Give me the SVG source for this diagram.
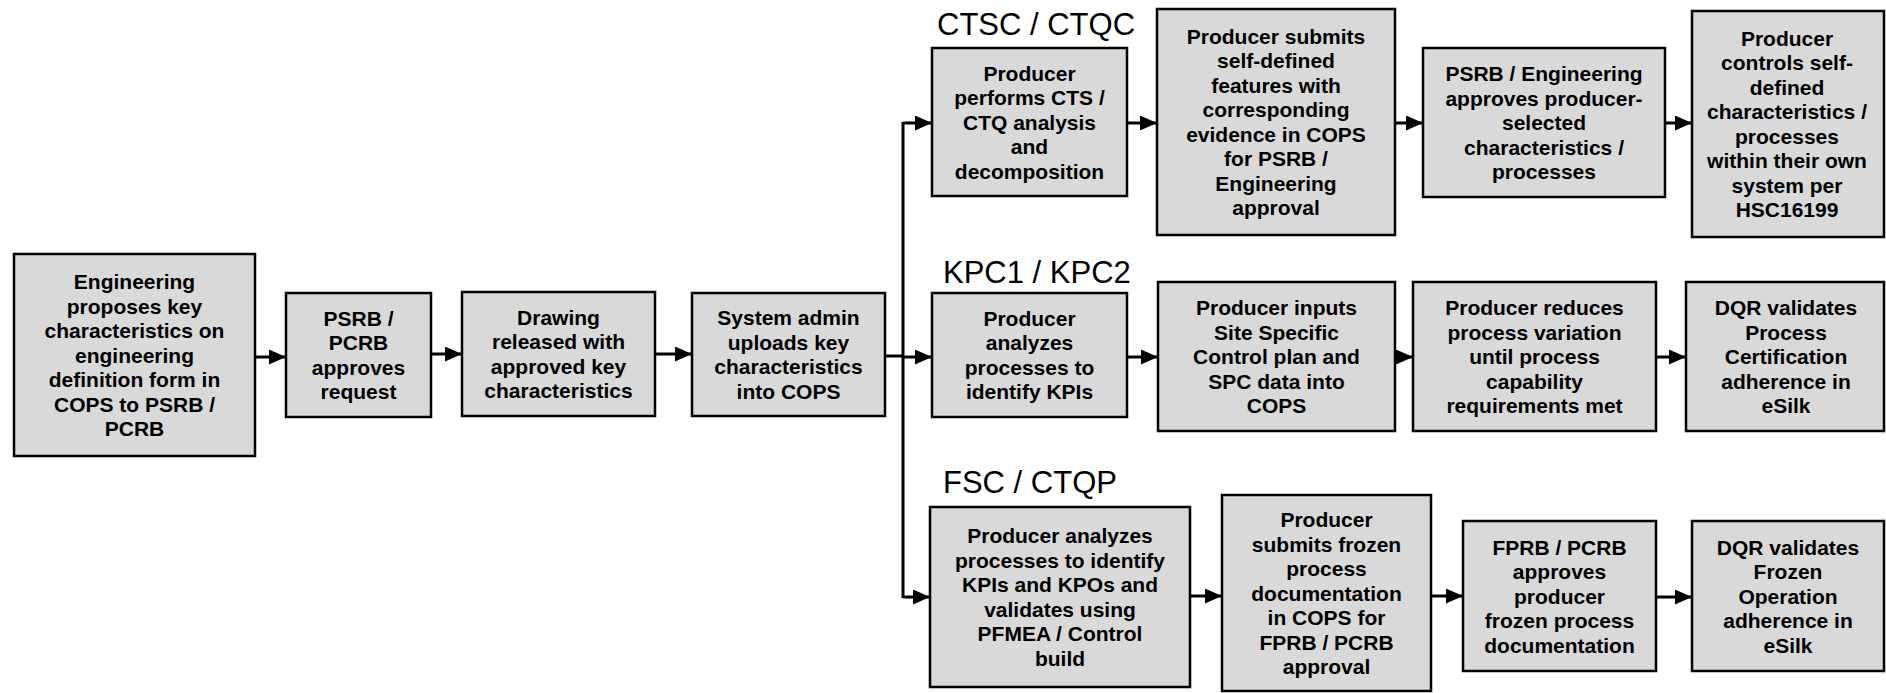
<svg xmlns="http://www.w3.org/2000/svg" width="1886" height="693" viewBox="0 0 1886 693">
<defs>
<style>
.box{fill:#d9d9d9;stroke:#000;stroke-width:2.5}
.t{font-family:"Liberation Sans",Arial,sans-serif;font-size:21px;font-weight:bold;text-anchor:middle;fill:#000}
.lbl{font-family:"Liberation Sans",Arial,sans-serif;font-size:31px;fill:#000}
.c{fill:none;stroke:#000;stroke-width:3}
</style>
<marker id="ah" markerUnits="userSpaceOnUse" markerWidth="17" markerHeight="15" refX="17" refY="7.5" orient="auto">
<path d="M0,0 L17,7.5 L0,15 z" fill="#000"/>
</marker>
</defs>
<rect width="1886" height="693" fill="#fff"/>
<g id="connectors">
<path class="c" d="M255,357 H286" marker-end="url(#ah)"/>
<path class="c" d="M431,354 H462" marker-end="url(#ah)"/>
<path class="c" d="M655,354 H692" marker-end="url(#ah)"/>
<path class="c" d="M885,356 H903"/>
<path class="c" d="M903,122 V598"/>
<path class="c" d="M903,123 H932" marker-end="url(#ah)"/>
<path class="c" d="M903,357 H932" marker-end="url(#ah)"/>
<path class="c" d="M903,597 H930" marker-end="url(#ah)"/>
<path class="c" d="M1127,123 H1157" marker-end="url(#ah)"/>
<path class="c" d="M1395,123 H1423" marker-end="url(#ah)"/>
<path class="c" d="M1665,123 H1692" marker-end="url(#ah)"/>
<path class="c" d="M1127,357 H1158" marker-end="url(#ah)"/>
<path class="c" d="M1395,357 H1413" marker-end="url(#ah)"/>
<path class="c" d="M1656,357 H1686" marker-end="url(#ah)"/>
<path class="c" d="M1190,596 H1222" marker-end="url(#ah)"/>
<path class="c" d="M1431,596 H1463" marker-end="url(#ah)"/>
<path class="c" d="M1656,597 H1692" marker-end="url(#ah)"/>
</g>
<g id="labels">
<text class="lbl" x="937" y="35">CTSC / CTQC</text>
<text class="lbl" x="943" y="283">KPC1 / KPC2</text>
<text class="lbl" x="943" y="493">FSC / CTQP</text>
</g>
<g id="n1"><rect class="box" x="14" y="254" width="241" height="202"/>
<text class="t" x="134.5" y="289"><tspan x="134.5">Engineering</tspan><tspan x="134.5" dy="24.5">proposes key</tspan><tspan x="134.5" dy="24.5">characteristics on</tspan><tspan x="134.5" dy="24.5">engineering</tspan><tspan x="134.5" dy="24.5">definition form in</tspan><tspan x="134.5" dy="24.5">COPS to PSRB /</tspan><tspan x="134.5" dy="24.5">PCRB</tspan></text></g>
<g id="n2"><rect class="box" x="286" y="293" width="145" height="124"/>
<text class="t" y="325.75"><tspan x="358.5">PSRB /</tspan><tspan x="358.5" dy="24.5">PCRB</tspan><tspan x="358.5" dy="24.5">approves</tspan><tspan x="358.5" dy="24.5">request</tspan></text></g>
<g id="n3"><rect class="box" x="462" y="292" width="193" height="124"/>
<text class="t" y="324.75"><tspan x="558.5">Drawing</tspan><tspan x="558.5" dy="24.5">released with</tspan><tspan x="558.5" dy="24.5">approved key</tspan><tspan x="558.5" dy="24.5">characteristics</tspan></text></g>
<g id="n4"><rect class="box" x="692" y="293" width="193" height="123"/>
<text class="t" y="325.25"><tspan x="788.5">System admin</tspan><tspan x="788.5" dy="24.5">uploads key</tspan><tspan x="788.5" dy="24.5">characteristics</tspan><tspan x="788.5" dy="24.5">into COPS</tspan></text></g>
<g id="n5"><rect class="box" x="932" y="48" width="195" height="148"/>
<text class="t" y="80.5"><tspan x="1029.5">Producer</tspan><tspan x="1029.5" dy="24.5">performs CTS /</tspan><tspan x="1029.5" dy="24.5">CTQ analysis</tspan><tspan x="1029.5" dy="24.5">and</tspan><tspan x="1029.5" dy="24.5">decomposition</tspan></text></g>
<g id="n6"><rect class="box" x="1157" y="9" width="238" height="226"/>
<text class="t" y="43.75"><tspan x="1276">Producer submits</tspan><tspan x="1276" dy="24.5">self-defined</tspan><tspan x="1276" dy="24.5">features with</tspan><tspan x="1276" dy="24.5">corresponding</tspan><tspan x="1276" dy="24.5">evidence in COPS</tspan><tspan x="1276" dy="24.5">for PSRB /</tspan><tspan x="1276" dy="24.5">Engineering</tspan><tspan x="1276" dy="24.5">approval</tspan></text></g>
<g id="n7"><rect class="box" x="1423" y="48" width="242" height="149"/>
<text class="t" y="81"><tspan x="1544">PSRB / Engineering</tspan><tspan x="1544" dy="24.5">approves producer-</tspan><tspan x="1544" dy="24.5">selected</tspan><tspan x="1544" dy="24.5">characteristics /</tspan><tspan x="1544" dy="24.5">processes</tspan></text></g>
<g id="n8"><rect class="box" x="1692" y="11" width="192" height="226"/>
<text class="t" y="45.75"><tspan x="1787">Producer</tspan><tspan x="1787" dy="24.5">controls self-</tspan><tspan x="1787" dy="24.5">defined</tspan><tspan x="1787" dy="24.5">characteristics /</tspan><tspan x="1787" dy="24.5">processes</tspan><tspan x="1787" dy="24.5">within their own</tspan><tspan x="1787" dy="24.5">system per</tspan><tspan x="1787" dy="24.5">HSC16199</tspan></text></g>
<g id="n9"><rect class="box" x="932" y="293" width="195" height="124"/>
<text class="t" y="325.75"><tspan x="1029.5">Producer</tspan><tspan x="1029.5" dy="24.5">analyzes</tspan><tspan x="1029.5" dy="24.5">processes to</tspan><tspan x="1029.5" dy="24.5">identify KPIs</tspan></text></g>
<g id="n10"><rect class="box" x="1158" y="282" width="237" height="149"/>
<text class="t" y="315"><tspan x="1276.5">Producer inputs</tspan><tspan x="1276.5" dy="24.5">Site Specific</tspan><tspan x="1276.5" dy="24.5">Control plan and</tspan><tspan x="1276.5" dy="24.5">SPC data into</tspan><tspan x="1276.5" dy="24.5">COPS</tspan></text></g>
<g id="n11"><rect class="box" x="1413" y="282" width="243" height="149"/>
<text class="t" y="315"><tspan x="1534.5">Producer reduces</tspan><tspan x="1534.5" dy="24.5">process variation</tspan><tspan x="1534.5" dy="24.5">until process</tspan><tspan x="1534.5" dy="24.5">capability</tspan><tspan x="1534.5" dy="24.5">requirements met</tspan></text></g>
<g id="n12"><rect class="box" x="1686" y="282" width="198" height="149"/>
<text class="t" y="315"><tspan x="1786">DQR validates</tspan><tspan x="1786" dy="24.5">Process</tspan><tspan x="1786" dy="24.5">Certification</tspan><tspan x="1786" dy="24.5">adherence in</tspan><tspan x="1786" dy="24.5">eSilk</tspan></text></g>
<g id="n13"><rect class="box" x="930" y="507" width="260" height="180"/>
<text class="t" y="543.25"><tspan x="1060">Producer analyzes</tspan><tspan x="1060" dy="24.5">processes to identify</tspan><tspan x="1060" dy="24.5">KPIs and KPOs and</tspan><tspan x="1060" dy="24.5">validates using</tspan><tspan x="1060" dy="24.5">PFMEA / Control</tspan><tspan x="1060" dy="24.5">build</tspan></text></g>
<g id="n14"><rect class="box" x="1222" y="495" width="209" height="196"/>
<text class="t" y="527"><tspan x="1326.5">Producer</tspan><tspan x="1326.5" dy="24.5">submits frozen</tspan><tspan x="1326.5" dy="24.5">process</tspan><tspan x="1326.5" dy="24.5">documentation</tspan><tspan x="1326.5" dy="24.5">in COPS for</tspan><tspan x="1326.5" dy="24.5">FPRB / PCRB</tspan><tspan x="1326.5" dy="24.5">approval</tspan></text></g>
<g id="n15"><rect class="box" x="1463" y="521" width="193" height="150"/>
<text class="t" y="554.5"><tspan x="1559.5">FPRB / PCRB</tspan><tspan x="1559.5" dy="24.5">approves</tspan><tspan x="1559.5" dy="24.5">producer</tspan><tspan x="1559.5" dy="24.5">frozen process</tspan><tspan x="1559.5" dy="24.5">documentation</tspan></text></g>
<g id="n16"><rect class="box" x="1692" y="521" width="192" height="150"/>
<text class="t" y="554.5"><tspan x="1788">DQR validates</tspan><tspan x="1788" dy="24.5">Frozen</tspan><tspan x="1788" dy="24.5">Operation</tspan><tspan x="1788" dy="24.5">adherence in</tspan><tspan x="1788" dy="24.5">eSilk</tspan></text></g>
</svg>
